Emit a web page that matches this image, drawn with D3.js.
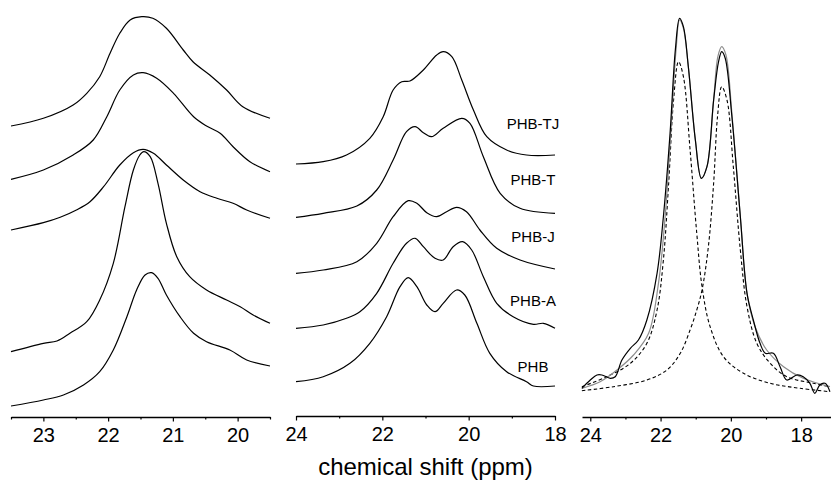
<!DOCTYPE html>
<html>
  <head>
    <meta charset="utf-8" />
    <title>PHB 13C CH3 region</title>
    <style>
      body {
        margin: 0;
        background: #fff;
      }
      svg text {
        font-family: "Liberation Sans", Arial, sans-serif;
        fill: #000;
      }
    </style>
    <script src="https://d3js.org/d3.v7.min.js"></script>
  </head>
  <body>
    <div id="chart"></div>
    <script>
      // values: [ppm, intensity (a.u., stacked)]
      // left panel, top to bottom
      const leftTrace1 = [[23.50, 291], [23.00, 298.7], [22.54, 312], [22.33, 323.7], [22.13, 340.3], [21.97, 363.7], [21.82, 383.7], [21.66, 397], [21.48, 400.3], [21.31, 398.7], [21.10, 388.7], [20.84, 367], [20.69, 355.3], [20.43, 342], [20.17, 327], [19.92, 310.3], [19.50, 298.7]];
      const leftTrace2 = [[23.50, 237.7], [23.00, 247], [22.54, 262], [22.23, 277], [22.02, 300.3], [21.82, 327], [21.61, 342], [21.46, 344.3], [21.25, 338.7], [20.99, 323.7], [20.68, 300.3], [20.48, 291], [20.27, 283.7], [20.07, 270.3], [19.81, 255.3], [19.50, 245.3]];
      const leftTrace3 = [[23.50, 187], [23.00, 194.3], [22.74, 199.7], [22.49, 207], [22.28, 215.3], [22.07, 230.3], [21.82, 252], [21.61, 264.3], [21.46, 267.7], [21.30, 263.7], [21.10, 252], [20.84, 237], [20.58, 225.3], [20.32, 218.7], [20.07, 213.7], [19.86, 207], [19.50, 198.7]];
      const leftTrace4 = [[23.50, 65.3], [23.00, 73.7], [22.79, 76], [22.59, 83.7], [22.33, 95.3], [22.13, 117], [21.92, 153.7], [21.74, 210.3], [21.61, 247], [21.51, 262], [21.45, 265.3], [21.35, 260.3], [21.23, 233.7], [21.10, 193.7], [20.94, 160.3], [20.74, 140.3], [20.48, 127], [20.17, 117], [19.96, 110.3], [19.76, 102], [19.50, 93.7]];
      const leftTrace5 = [[23.50, 11], [23.00, 17], [22.69, 22], [22.38, 32], [22.13, 45.3], [21.92, 67], [21.71, 100.3], [21.56, 127], [21.43, 142], [21.33, 144.3], [21.23, 138.7], [21.10, 122], [20.89, 100.3], [20.68, 83.7], [20.48, 75.3], [20.12, 67], [19.86, 57], [19.50, 51]];

      // middle panel
      const midPHBTJ = [[24.00, 253], [23.37, 255.3], [22.83, 262], [22.29, 278.7], [21.98, 300.3], [21.75, 327], [21.55, 335.3], [21.36, 336], [21.05, 347], [20.74, 362], [20.59, 365.3], [20.39, 360.3], [20.16, 337], [19.89, 307], [19.58, 280.3], [19.12, 267], [18.66, 262], [18.00, 262]];
      const midPHBT = [[24.00, 199.7], [23.37, 203.7], [22.59, 211], [22.13, 227], [21.75, 257], [21.44, 285.3], [21.24, 290.3], [21.05, 284.3], [20.86, 280.3], [20.59, 288.7], [20.16, 298.7], [19.97, 293.7], [19.66, 260.3], [19.27, 223.7], [18.81, 208.7], [18.00, 203.7]];
      const midPHBJ = [[24.00, 143.7], [23.37, 147], [22.59, 155.3], [22.13, 173.7], [21.75, 200.3], [21.40, 216.3], [21.20, 213.7], [20.97, 204.3], [20.74, 200.3], [20.51, 205.3], [20.28, 209.7], [20.05, 205.3], [19.74, 187], [19.35, 168.7], [18.81, 157], [18.00, 148]];
      const midPHBA = [[24.00, 88.7], [23.37, 92], [22.83, 98.7], [22.52, 105.3], [22.13, 123.7], [21.75, 153.7], [21.44, 173.7], [21.24, 178.7], [21.05, 170.3], [20.78, 158.7], [20.59, 157], [20.36, 170.3], [20.14, 175.3], [19.93, 167], [19.66, 140.3], [19.35, 113.7], [18.97, 100.3], [18.50, 92.7], [18.27, 93.7], [18.00, 88.7]];
      const midPHB = [[24.00, 35.3], [23.37, 40.3], [22.75, 53.7], [22.29, 73.7], [21.90, 100.3], [21.59, 130.3], [21.40, 139.3], [21.20, 130.3], [20.97, 112], [20.78, 105.3], [20.59, 113.7], [20.28, 127], [20.09, 122], [19.81, 93.7], [19.51, 63.7], [19.12, 45.3], [18.66, 35.3], [18.50, 31], [18.00, 31]];
      const midLabels = ["PHB-TJ", "PHB-T", "PHB-J", "PHB-A", "PHB"];
      const midLabelLevels = [288, 232, 175, 111, 45.5];
      const midLabelPpm = 18.51;

      // right panel: spectrum, total fit, two fitted components
      const rightExp = [[24.24, 28.7], [24.00, 37], [23.81, 42], [23.67, 42], [23.43, 38.7], [23.29, 40.3], [23.10, 57], [22.86, 68.7], [22.63, 77], [22.39, 97], [22.10, 143.7], [21.92, 200.3], [21.73, 283.7], [21.58, 367], [21.46, 398.7], [21.35, 390.3], [21.21, 350.3], [21.01, 277], [20.84, 238.7], [20.68, 250.3], [20.49, 317], [20.35, 355.3], [20.26, 365.3], [20.16, 358.7], [19.97, 300.3], [19.73, 200.3], [19.54, 123.7], [19.36, 97], [19.17, 73.7], [19.02, 63.7], [18.79, 63.7], [18.60, 50.3], [18.41, 37], [18.12, 42], [17.94, 40.3], [17.75, 33.7], [17.61, 23.7], [17.47, 32], [17.32, 33.7], [17.18, 25.3]];
      const rightFit = [[24.24, 28.7], [23.72, 35.3], [23.24, 47], [22.77, 62], [22.34, 83.7], [22.06, 133.7], [21.87, 200.3], [21.71, 283.7], [21.56, 367], [21.46, 397], [21.35, 388.7], [21.21, 350.3], [21.01, 277], [20.84, 238.7], [20.68, 250.3], [20.49, 317], [20.37, 360.3], [20.26, 370.3], [20.14, 362], [19.97, 303.7], [19.73, 200.3], [19.54, 123.7], [19.31, 90.3], [18.98, 67], [18.50, 50.3], [17.94, 38.7], [17.18, 30.3]];
      const rightPeakA = [[24.24, 30.3], [23.53, 40.3], [22.86, 53.7], [22.39, 73.7], [22.10, 107], [21.92, 157], [21.77, 233.7], [21.63, 317], [21.49, 355.3], [21.35, 340.3], [21.16, 267], [20.97, 183.7], [20.82, 130.3], [20.59, 90.3], [20.21, 60.3], [19.64, 43.7], [18.88, 33.7], [18.03, 28.7], [17.18, 25.3]];
      const rightPeakB = [[24.24, 26.3], [23.34, 30.3], [22.39, 37], [21.82, 47], [21.44, 63.7], [21.16, 87], [20.97, 107], [20.82, 127], [20.64, 170.3], [20.49, 233.7], [20.38, 300.3], [20.26, 330.3], [20.11, 317], [19.93, 250.3], [19.73, 167], [19.54, 110.3], [19.26, 73.7], [18.88, 53.7], [18.41, 40.3], [17.65, 33.7], [17.18, 30.3]];

      // ticks
      const leftMajor = [23, 22, 21, 20];
      const leftMinor = [23.5, 22.5, 21.5, 20.5, 19.5];
      const midMajor = [24, 22, 20, 18];
      const midMinor = [23, 21, 19];
      const rightMajor = [24, 22, 20, 18];
      const rightMinor = [23, 21, 19];

      const width = 831, height = 480;
      const svg = d3.select("#chart").append("svg")
        .attr("width", width)
        .attr("height", height);

      const y = d3.scaleLinear().domain([0, 400]).range([417, 17]);

      const panels = [
        { x: d3.scaleLinear().domain([23.5, 19.5]).range([11, 270]), axisY: 417,
          major: leftMajor, minor: leftMinor,
          series: [leftTrace1, leftTrace2, leftTrace3, leftTrace4, leftTrace5].map(d => ({ d, kind: "solid" })) },
        { x: d3.scaleLinear().domain([24, 18]).range([296, 555]), axisY: 416,
          major: midMajor, minor: midMinor,
          series: [midPHBTJ, midPHBT, midPHBJ, midPHBA, midPHB].map(d => ({ d, kind: "solid" })) },
        { x: d3.scaleLinear().domain([24.236, 17.15]).range([582, 831]), axisY: 417,
          major: rightMajor, minor: rightMinor,
          series: [
            { d: rightPeakB, kind: "dash" },
            { d: rightPeakA, kind: "dash" },
            { d: rightFit, kind: "fit" },
            { d: rightExp, kind: "solid" }
          ] }
      ];

      panels.forEach(p => {
        const g = svg.append("g");
        const line = d3.line()
          .x(d => p.x(d[0]))
          .y(d => y(d[1]))
          .curve(d3.curveCatmullRom.alpha(0.5));

        g.selectAll("path.trace")
          .data(p.series)
          .join("path")
          .attr("class", "trace")
          .attr("d", s => line(s.d))
          .attr("fill", "none")
          .attr("stroke", s => s.kind === "fit" ? "#8c8c8c" : "#000")
          .attr("stroke-width", s => s.kind === "dash" ? 1.1 : 1.2)
          .attr("stroke-dasharray", s => s.kind === "dash" ? "3.5,2.5" : null);

        // minor ticks (no labels)
        g.append("g")
          .attr("transform", `translate(0,${p.axisY})`)
          .call(d3.axisBottom(p.x).tickValues(p.minor).tickSize(2.5).tickSizeOuter(0).tickFormat(""))
          .call(a => a.select(".domain").remove())
          .call(a => a.selectAll("line").attr("stroke-width", 1.2));

        // major ticks + axis line
        g.append("g")
          .attr("transform", `translate(0,${p.axisY})`)
          .call(d3.axisBottom(p.x).tickValues(p.major).tickSize(4.5).tickSizeOuter(0).tickPadding(6).tickFormat(d3.format("d")))
          .call(a => a.select(".domain").attr("stroke-width", 1.3))
          .call(a => a.selectAll("line").attr("stroke-width", 1.2))
          .call(a => a.selectAll("text")
            .attr("font-size", 20)
            .attr("font-family", "'Liberation Sans', Arial, sans-serif"));
      });

      // sample labels in the middle panel
      const mid = panels[1];
      svg.append("g")
        .selectAll("text")
        .data(midLabels)
        .join("text")
        .attr("x", mid.x(midLabelPpm))
        .attr("y", (d, i) => y(midLabelLevels[i]))
        .attr("text-anchor", "middle")
        .attr("font-size", 15)
        .text(d => d);

      svg.append("text")
        .attr("x", 425.5)
        .attr("y", 475)
        .attr("text-anchor", "middle")
        .attr("font-size", 24)
        .text("chemical shift (ppm)");
    </script>
  </body>
</html>
